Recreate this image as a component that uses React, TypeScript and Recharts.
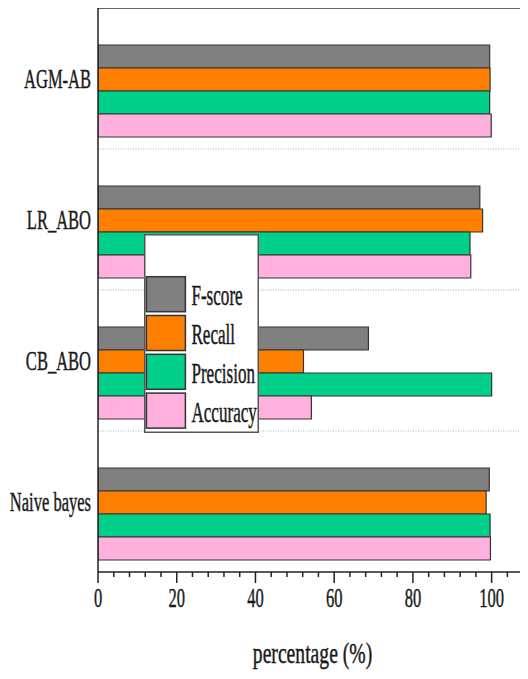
import { Bar, BarChart, CartesianGrid, Label, Legend, ReferenceLine, XAxis, YAxis } from "recharts";

const categories = ["AGM-AB", "LR_ABO", "CB_ABO", "Naive bayes"];
const fScore = [99.5, 97.0, 68.7, 99.4];
const recall = [99.6, 97.7, 52.2, 98.6];
const precision = [99.5, 94.5, 100, 99.6];
const accuracy = [99.9, 94.7, 54.2, 99.7];

const xDomain = [0, 110];
const xMajorTicks = [0, 20, 40, 60, 80, 100];
const xAllTicks = [0, 4, 8, 12, 16, 20, 24, 28, 32, 36, 40, 44, 48, 52, 56, 60, 64, 68, 72, 76, 80, 84, 88, 92, 96, 100, 104, 108];

const series = [
  { key: "fScore", name: "F-score", color: "#808080" },
  { key: "recall", name: "Recall", color: "#FF8000" },
  { key: "precision", name: "Precision", color: "#00D08A" },
  { key: "accuracy", name: "Accuracy", color: "#FFB0DC" }
];

const data = categories.map((name, i) => ({
  name,
  fScore: fScore[i],
  recall: recall[i],
  precision: precision[i],
  accuracy: accuracy[i]
}));

const FONT = "'Liberation Serif', 'Times New Roman', serif";
const INK = "#1a1a1a";

function Squeezed({ x, y, text, size, squeeze, anchor }: any) {
  return (
    <text
      transform={`translate(${x},${y}) scale(${squeeze},1)`}
      fontFamily={FONT}
      fontSize={size}
      textAnchor={anchor}
      fill={INK}
      stroke={INK}
      strokeWidth={0.45}
    >
      {text}
    </text>
  );
}

function CategoryTick({ x, y, payload }: any) {
  return <Squeezed x={x} y={y + 9.5} text={payload.value} size={28} squeeze={0.59} anchor="end" />;
}

function ValueTick({ x, y, payload }: any) {
  const major = xMajorTicks.includes(payload.value);
  return (
    <g>
      <line x1={x} x2={x} y1={y} y2={y + (major ? 11 : 5)} stroke="#222" strokeWidth={1.5} />
      {major && <Squeezed x={x} y={y + 35} text={String(payload.value)} size={28} squeeze={0.59} anchor="middle" />}
    </g>
  );
}

function AxisTitle({ viewBox }: any) {
  return (
    <Squeezed
      x={viewBox.x + viewBox.width / 2 - 2}
      y={viewBox.y + 91}
      text="percentage (%)"
      size={30}
      squeeze={0.655}
      anchor="middle"
    />
  );
}

function LegendBox() {
  return (
    <svg width={115} height={199} style={{ display: "block" }}>
      <rect x={0.75} y={0.75} width={113.5} height={197.5} fill="#fff" stroke="#555" strokeWidth={1.5} />
      {series.map((s, i) => {
        const top = 42.7 + i * 38.8;
        return (
          <g key={s.key}>
            <rect x={2.4} y={top} width={39} height={35} fill={s.color} stroke="#333" strokeWidth={1.5} />
            <Squeezed x={47.4} y={top + 28.5} text={s.name} size={29} squeeze={0.59} anchor="start" />
          </g>
        );
      })}
    </svg>
  );
}

// dotted lines between the category bands
const bandEdges = ({ offset }: any) =>
  categories.slice(1).map((_, i) => offset.top + (offset.height * (i + 1)) / categories.length);

export default function App() {
  return (
    <div style={{ margin: -8, width: 528, height: 679, overflow: "hidden", background: "#fff" }}>
      <div style={{ width: 540, height: 679 }}>
        <BarChart
          width={540}
          height={679}
          data={data}
          layout="vertical"
          margin={{ top: 8, right: 9, bottom: 0, left: 0 }}
          barCategoryGap={14}
          barGap={0}
        >
          <CartesianGrid
            vertical={false}
            horizontalCoordinatesGenerator={bandEdges}
            stroke="#b0b0b0"
            strokeDasharray="1 1.5"
          />
          <XAxis
            type="number"
            domain={xDomain}
            allowDataOverflow
            ticks={xAllTicks}
            interval={0}
            height={107}
            tickSize={0}
            tickMargin={0}
            tickLine={false}
            axisLine={{ stroke: "#222", strokeWidth: 1.5 }}
            tick={<ValueTick />}
          >
            <Label content={<AxisTitle />} />
          </XAxis>
          <YAxis
            type="category"
            dataKey="name"
            width={98}
            tickSize={0}
            tickMargin={7}
            tickLine={false}
            axisLine={{ stroke: "#222", strokeWidth: 1.5 }}
            tick={<CategoryTick />}
          />
          {/* top frame line, at the upper edge of the first band */}
          <ReferenceLine
            y={categories[0]}
            position="start"
            stroke="#333"
            strokeWidth={1.5}
            ifOverflow="visible"
          />
          {/* empty lead slot: the bar groups sit low in each band */}
          <Bar dataKey="spacer" fill="none" legendType="none" isAnimationActive={false} />
          {series.map((s) => (
            <Bar
              key={s.key}
              dataKey={s.key}
              name={s.name}
              fill={s.color}
              stroke="#333"
              strokeWidth={1.2}
              isAnimationActive={false}
            />
          ))}
          <Legend
            layout="vertical"
            align="center"
            verticalAlign="middle"
            content={<LegendBox />}
            wrapperStyle={{ left: 144, top: 234, width: 115, height: 199 }}
          />
        </BarChart>
      </div>
    </div>
  );
}
